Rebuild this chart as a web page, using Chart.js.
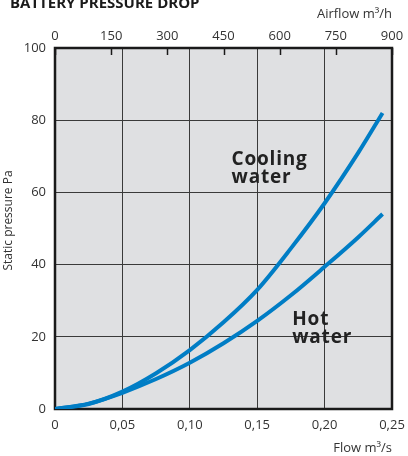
<!DOCTYPE html>
<html>
<head>
<meta charset="utf-8">
<script src="https://cdn.jsdelivr.net/npm/chart.js@4"></script>
<style>
  body { margin: 0; background: #fff; font-family: "Open Sans", sans-serif; }
  #wrap { position: relative; width: 408px; height: 456px; overflow: hidden; }
  #heading { position: absolute; left: 10px; top: -5px; font-size: 15px; font-weight: bold; line-height: 15px; color: #1a1a1a; white-space: nowrap; }
</style>
</head>
<body>
<div id="wrap">
  <div id="heading">BATTERY PRESSURE DROP</div>
  <canvas id="chart"></canvas>
</div>
<script>
// values
const flow = [0, 0.025, 0.05, 0.075, 0.10, 0.125, 0.15, 0.175, 0.20, 0.225, 0.243];
const coolingPa = [0, 1.4, 4.8, 9.9, 16.3, 24, 33, 44.5, 57, 71, 82];
const hotPa = [0, 1.5, 4.5, 8.3, 12.8, 18.2, 24.4, 31.5, 39.4, 47.6, 54];

const flowTicks = ['0', '0,05', '0,10', '0,15', '0,20', '0,25'];
const airflowTicks = ['0', '150', '300', '450', '600', '750', '900'];
const pressureTicks = ['0', '20', '40', '60', '80', '100'];
const yTitle = 'Static pressure Pa';

const labels = [
  { lines: ['Cooling', 'water'], x: 0.131, y: 67.6 },
  { lines: ['Hot', 'water'], x: 0.176, y: 23.3 }
];

const blue = 'rgb(0, 125, 197)';
const textGrey = '#333';
const tickFont = { family: '"Open Sans", sans-serif', size: 13 };

const toPoints = (ys) => flow.map((f, i) => ({ x: f, y: ys[i] }));

// fixed plot box: 55..392 across, 48..409 down
const fitH = (h) => (s) => { s.height = h; s.paddingLeft = 0; s.paddingRight = 0; };

// grey plot area, frame, top tick marks, curve labels, y title
const plotDecor = {
  id: 'plotDecor',
  beforeDraw(chart) {
    const { ctx, chartArea: a } = chart;
    ctx.save();
    ctx.fillStyle = '#dfe0e2';
    ctx.fillRect(a.left, a.top, a.right - a.left, a.bottom - a.top);
    ctx.restore();
  },
  beforeDatasetsDraw(chart) {
    const { ctx, chartArea: a, scales } = chart;
    ctx.save();
    ctx.strokeStyle = '#1a1a1a';
    ctx.lineWidth = 1.5;
    const top = scales.x2;
    top.ticks.forEach((t) => {
      const px = Math.round(top.getPixelForValue(t.value)) + 0.5;
      ctx.beginPath();
      ctx.moveTo(px, a.top);
      ctx.lineTo(px, a.top + 7);
      ctx.stroke();
    });
    ctx.lineWidth = 2.5;
    ctx.strokeRect(a.left, a.top, a.right - a.left, a.bottom - a.top);
    ctx.restore();
  },
  afterDatasetsDraw(chart) {
    const { ctx, scales, chartArea: a } = chart;
    ctx.save();
    ctx.fillStyle = '#222';
    ctx.font = 'bold 19px "Open Sans", sans-serif';
    ctx.letterSpacing = '0.8px';
    ctx.textBaseline = 'alphabetic';
    labels.forEach((l) => {
      const px = scales.x.getPixelForValue(l.x);
      const py = scales.y.getPixelForValue(l.y);
      l.lines.forEach((s, i) => ctx.fillText(s, px, py + i * 18));
    });
    ctx.restore();

    ctx.save();
    ctx.fillStyle = textGrey;
    ctx.font = '12px "Open Sans", sans-serif';
    ctx.textAlign = 'center';
    ctx.textBaseline = 'middle';
    ctx.translate(9, (a.top + a.bottom) / 2 - 8);
    ctx.rotate(-Math.PI / 2);
    ctx.fillText(yTitle, 0, 0);
    ctx.restore();
  }
};

new Chart(document.getElementById('chart'), {
  type: 'line',
  data: {
    datasets: [
      { label: 'Cooling water', data: toPoints(coolingPa), borderColor: blue, borderWidth: 4, pointRadius: 0, cubicInterpolationMode: 'monotone', fill: false },
      { label: 'Hot water', data: toPoints(hotPa), borderColor: blue, borderWidth: 4, pointRadius: 0, cubicInterpolationMode: 'monotone', fill: false }
    ]
  },
  options: {
    responsive: true,
    maintainAspectRatio: false,
    animation: false,
    layout: { padding: { right: 16, top: 0, bottom: 0, left: 0 } },
    plugins: { legend: { display: false }, tooltip: { enabled: false } },
    scales: {
      x: {
        type: 'linear', position: 'bottom', min: 0, max: 0.25,
        afterFit: fitH(47),
        grid: { color: '#3a3a3a', lineWidth: 1, drawTicks: false },
        border: { display: false },
        ticks: { stepSize: 0.05, padding: 8, color: textGrey, font: tickFont, maxRotation: 0,
          callback: (v, i) => flowTicks[i] },
        title: { display: true, text: 'Flow m³/s', align: 'end', color: textGrey, font: tickFont, padding: { top: 6, bottom: 0 } }
      },
      x2: {
        type: 'linear', position: 'top', min: 0, max: 900,
        afterFit: fitH(48),
        grid: { display: false },
        border: { display: false },
        ticks: { stepSize: 150, padding: -4, color: textGrey, font: tickFont, maxRotation: 0,
          callback: (v, i) => airflowTicks[i] },
        title: { display: true, text: 'Airflow m³/h', align: 'end', color: textGrey, font: tickFont, padding: { top: 6, bottom: 0 } }
      },
      y: {
        type: 'linear', position: 'left', min: 0, max: 100,
        afterFit: (s) => { s.width = 55; s.paddingTop = 0; s.paddingBottom = 0; },
        grid: { color: '#3a3a3a', lineWidth: 1, drawTicks: false },
        border: { display: false },
        ticks: { stepSize: 20, padding: 9, color: textGrey, font: tickFont,
          callback: (v, i) => pressureTicks[i] }
      }
    }
  },
  plugins: [plotDecor]
});
</script>
</body>
</html>
